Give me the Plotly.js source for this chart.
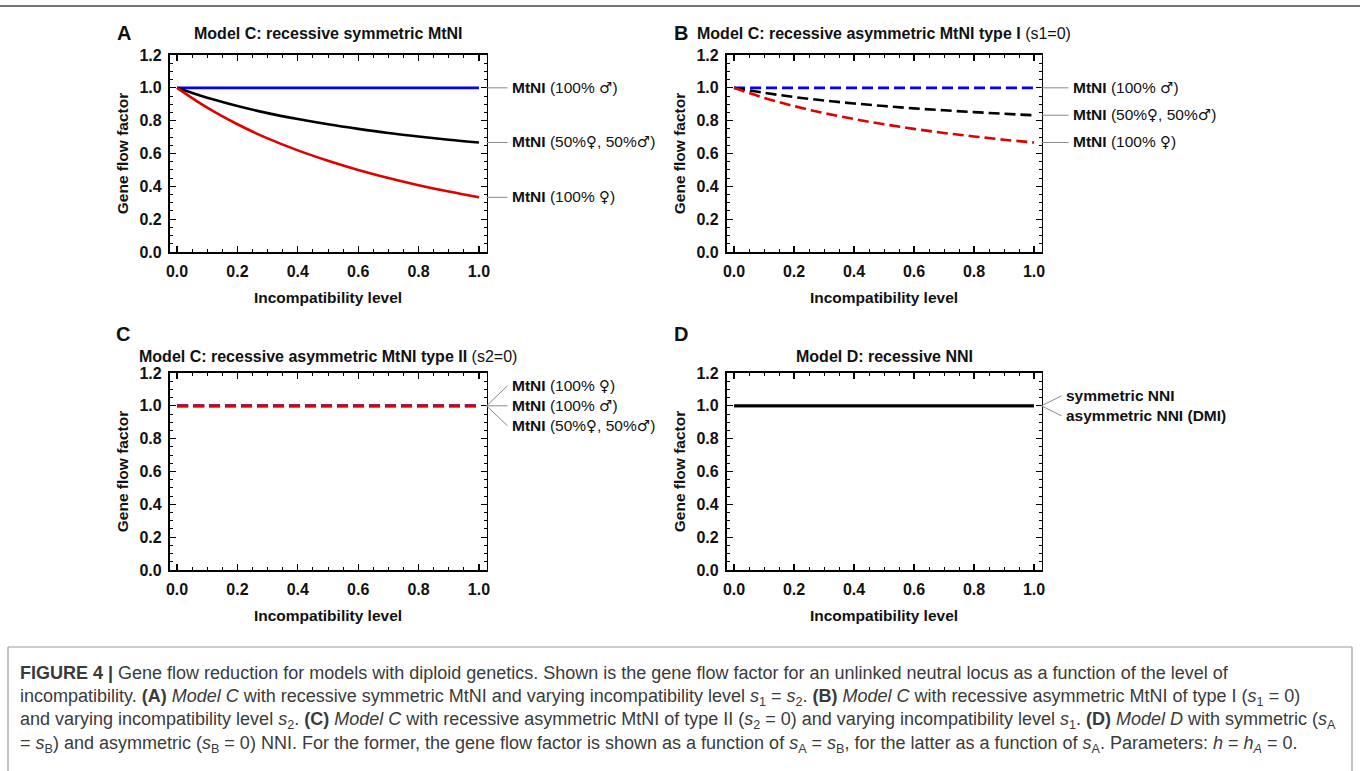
<!DOCTYPE html>
<html><head><meta charset="utf-8">
<script src="https://cdn.plot.ly/plotly-3.0.1.min.js"></script>
<style>html,body{margin:0;padding:0;background:#fff}#chart{width:1360px;height:771px}</style>
</head><body><div id="chart"></div>
<script>
// ---------- data ----------
const incompat = [0, 0.1, 0.2, 0.3, 0.4, 0.5, 0.6, 0.7, 0.8, 0.9, 1.0];
const xTickVals = [0, 0.2, 0.4, 0.6, 0.8, 1.0];
const xTickText = ["0.0", "0.2", "0.4", "0.6", "0.8", "1.0"];
const yTickVals = [0, 0.2, 0.4, 0.6, 0.8, 1.0, 1.2];
const yTickText = ["0.0", "0.2", "0.4", "0.6", "0.8", "1.0", "1.2"];

// Panel A: recessive symmetric MtNI
const aMale   = [1, 1, 1, 1, 1, 1, 1, 1, 1, 1, 1];
const aBoth   = [1, 0.939, 0.889, 0.846, 0.810, 0.778, 0.750, 0.725, 0.704, 0.684, 0.667];
const aFemale = [1, 0.879, 0.778, 0.692, 0.619, 0.556, 0.500, 0.451, 0.407, 0.368, 0.333];
// Panel B: recessive asymmetric MtNI type I (s1=0)
const bMale   = [1, 1, 1, 1, 1, 1, 1, 1, 1, 1, 1];
const bBoth   = [1, 0.970, 0.944, 0.923, 0.905, 0.889, 0.875, 0.863, 0.852, 0.842, 0.833];
const bFemale = [1, 0.939, 0.889, 0.846, 0.810, 0.778, 0.750, 0.725, 0.704, 0.684, 0.667];
// Panel C: recessive asymmetric MtNI type II (s2=0)
const cFemale = [1, 1, 1, 1, 1, 1, 1, 1, 1, 1, 1];
const cMale   = [1, 1, 1, 1, 1, 1, 1, 1, 1, 1, 1];
const cBoth   = [1, 1, 1, 1, 1, 1, 1, 1, 1, 1, 1];
// Panel D: recessive NNI
const dSym  = [1, 1, 1, 1, 1, 1, 1, 1, 1, 1, 1];
const dAsym = [1, 1, 1, 1, 1, 1, 1, 1, 1, 1, 1];

const SYM = s => "<span style='font-family:DejaVu Sans;font-size:15px'>" + s + "</span>";
const labMale   = "<b>MtNI</b> (100% " + SYM("\u2642") + ")";
const labFemale = "<b>MtNI</b> (100% " + SYM("\u2640") + ")";
const labBoth   = "<b>MtNI</b> (50%" + SYM("\u2640") + ", 50%" + SYM("\u2642") + ")";
const labSym    = "<b>symmetric NNI</b>";
const labAsym   = "<b>asymmetric NNI (DMI)</b>";
const panelTitles = ["<b>Model C: recessive symmetric MtNI</b>",
  "<b>Model C: recessive asymmetric MtNI type I</b> (s1=0)",
  "<b>Model C: recessive asymmetric MtNI type II</b> (s2=0)",
  "<b>Model D: recessive NNI</b>"];
const panelLetters = ["A", "B", "C", "D"];
const xTitle = "Incompatibility level";
const yTitle = "Gene flow factor";

// ---------- styling ----------
const W = 1360, H = 771;
const px = v => v / W, py = v => 1 - v / H;
const BLUE = "#0000ff", RED = "#e00000", BLACK = "#000000";
const LW = 2.6;
const DASH = "11px,5px";
const FONT = "Liberation Sans, Arial, sans-serif";

function tr(x, y, color, dash, ax) {
  return {x: x, y: y, type: "scatter", mode: "lines", xaxis: "x" + ax, yaxis: "y" + ax,
    line: {color: color, width: LW, dash: dash, shape: "spline"}, hoverinfo: "skip"};
}
const data = [
  tr(incompat, aMale, BLUE, "solid", ""),
  tr(incompat, aBoth, BLACK, "solid", ""),
  tr(incompat, aFemale, RED, "solid", ""),
  tr(incompat, bMale, BLUE, DASH, "2"),
  tr(incompat, bBoth, BLACK, DASH, "2"),
  tr(incompat, bFemale, RED, DASH, "2"),
  tr(incompat, cBoth, BLACK, DASH, "3"),
  tr(incompat, cMale, BLUE, DASH, "3"),
  tr(incompat, cFemale, RED, DASH, "3"),
  tr(incompat, dSym, BLACK, "solid", "4"),
  tr(incompat, dAsym, BLACK, "solid", "4")
];

function xax(domain, anchor) {
  return {domain: domain, anchor: anchor, range: [-0.025, 1.025], tickmode: "array",
    tickvals: xTickVals, ticktext: xTickText, ticks: "inside", ticklen: 6, tickwidth: 1.2,
    tickcolor: "#000", showline: true, linewidth: 1.6, linecolor: "#000", mirror: "allticks",
    showgrid: false, zeroline: false, ticklabelstandoff: 4,
    minor: {tickmode: "linear", tick0: 0, dtick: 0.05, ticks: "inside", ticklen: 3, tickwidth: 1, tickcolor: "#000", showgrid: false},
    tickfont: {family: FONT, size: 16, color: "#111", weight: "bold"},
    title: {text: xTitle, standoff: 13, font: {family: FONT, size: 15.5, color: "#111", weight: "bold"}}};
}
function yax(domain, anchor) {
  return {domain: domain, anchor: anchor, range: [0, 1.2], tickmode: "array",
    tickvals: yTickVals, ticktext: yTickText, ticks: "inside", ticklen: 6, tickwidth: 1.2,
    tickcolor: "#000", showline: true, linewidth: 1.6, linecolor: "#000", mirror: "allticks",
    showgrid: false, zeroline: false, ticklabelstandoff: 3,
    minor: {tickmode: "linear", tick0: 0, dtick: 0.05, ticks: "inside", ticklen: 3, tickwidth: 1, tickcolor: "#000", showgrid: false},
    tickfont: {family: FONT, size: 16, color: "#111", weight: "bold"},
    title: {text: yTitle, standoff: 7, font: {family: FONT, size: 15.5, color: "#111", weight: "bold"}}};
}
const xL = [px(169.5), px(486.5)], xR = [px(726.5), px(1041.5)];
const yT = [py(252), py(55)], yB = [py(570), py(373)];

const LABFONT = {family: FONT, size: 15.5, color: "#111"};
function lab(xref, yref, y, text, ax, ay) {
  return {xref: xref, yref: yref, x: 1, y: y, text: text, showarrow: true, arrowhead: 0,
    arrowwidth: 1, arrowcolor: "#8a8a8a", ax: ax, ay: ay, xanchor: "left", yanchor: "middle",
    borderpad: 3, font: LABFONT, standoff: 0, startstandoff: 0};
}
const last = a => a[a.length - 1];
const annotations = [
  lab("x domain", "y", last(aMale), labMale, 21, 0),
  lab("x domain", "y", last(aBoth), labBoth, 21, 0),
  lab("x domain", "y", last(aFemale), labFemale, 21, 0),
  lab("x2 domain", "y2", last(bMale), labMale, 27, 0),
  lab("x2 domain", "y2", last(bBoth), labBoth, 27, 0),
  lab("x2 domain", "y2", last(bFemale), labFemale, 27, 0),
  lab("x3 domain", "y3", last(cFemale), labFemale, 21, -20),
  lab("x3 domain", "y3", last(cMale), labMale, 21, 0),
  lab("x3 domain", "y3", last(cBoth), labBoth, 21, 20),
  lab("x4 domain", "y4", last(dSym), labSym, 20, -10),
  lab("x4 domain", "y4", last(dAsym), labAsym, 20, 10)
];
const TFONT = {family: FONT, size: 16, color: "#111"};
const titlePos = [[328, 34], [884, 34], [328, 356], [884, 356]];
titlePos.forEach((p, i) => annotations.push({xref: "paper", yref: "paper", x: px(p[0]), y: py(p[1]),
  text: panelTitles[i], showarrow: false, xanchor: "center", yanchor: "middle", font: TFONT}));
const letterPos = [[124, 33], [681, 33], [123, 334], [681, 334]];
letterPos.forEach((p, i) => annotations.push({xref: "paper", yref: "paper", x: px(p[0]), y: py(p[1]),
  text: "<b>" + panelLetters[i] + "</b>", showarrow: false, xanchor: "center", yanchor: "middle",
  font: {family: FONT, size: 20, color: "#111"}}));

// caption
const captionLines = [
  "<b>FIGURE 4 |</b> Gene flow reduction for models with diploid genetics. Shown is the gene flow factor for an unlinked neutral locus as a function of the level of",
  "incompatibility. <b>(A)</b> <i>Model C</i> with recessive symmetric MtNI and varying incompatibility level <i>s</i><sub>1</sub> = <i>s</i><sub>2</sub>. <b>(B)</b> <i>Model C</i> with recessive asymmetric MtNI of type I (<i>s</i><sub>1</sub> = 0)",
  "and varying incompatibility level <i>s</i><sub>2</sub>. <b>(C)</b> <i>Model C</i> with recessive asymmetric MtNI of type II (<i>s</i><sub>2</sub> = 0) and varying incompatibility level <i>s</i><sub>1</sub>. <b>(D)</b> <i>Model D</i> with symmetric (<i>s</i><sub>A</sub>",
  "= <i>s</i><sub>B</sub>) and asymmetric (<i>s</i><sub>B</sub> = 0) NNI. For the former, the gene flow factor is shown as a function of <i>s</i><sub>A</sub> = <i>s</i><sub>B</sub>, for the latter as a function of <i>s</i><sub>A</sub>. Parameters: <i>h</i> = <i>h<sub>A</sub></i> = 0."
];
const capY = [673, 697, 720, 744];
captionLines.forEach((t, i) => annotations.push({xref: "paper", yref: "paper", x: px(18), y: py(capY[i]),
  text: t, showarrow: false, xanchor: "left", yanchor: "middle",
  font: {family: FONT, size: 18, color: "#3a3a3a"}}));

const shapes = [
  {type: "line", xref: "paper", yref: "paper", x0: 0, x1: 1, y0: py(6), y1: py(6), line: {color: "#444", width: 1.5}},
  {type: "line", xref: "paper", yref: "paper", x0: px(8), x1: px(1352), y0: py(647), y1: py(647), line: {color: "#999", width: 1.2}},
  {type: "line", xref: "paper", yref: "paper", x0: px(8), x1: px(8), y0: py(647), y1: 0, line: {color: "#999", width: 1.2}},
  {type: "line", xref: "paper", yref: "paper", x0: px(1352), x1: px(1352), y0: py(647), y1: 0, line: {color: "#999", width: 1.2}}
];

const layout = {
  width: W, height: H, margin: {l: 0, r: 0, t: 0, b: 0}, paper_bgcolor: "#fff", plot_bgcolor: "#fff",
  showlegend: false, font: {family: FONT},
  xaxis: xax(xL, "y"), yaxis: yax(yT, "x"),
  xaxis2: xax(xR, "y2"), yaxis2: yax(yT, "x2"),
  xaxis3: xax(xL, "y3"), yaxis3: yax(yB, "x3"),
  xaxis4: xax(xR, "y4"), yaxis4: yax(yB, "x4"),
  annotations: annotations, shapes: shapes
};
Plotly.newPlot("chart", data, layout, {staticPlot: true});
</script></body></html>
